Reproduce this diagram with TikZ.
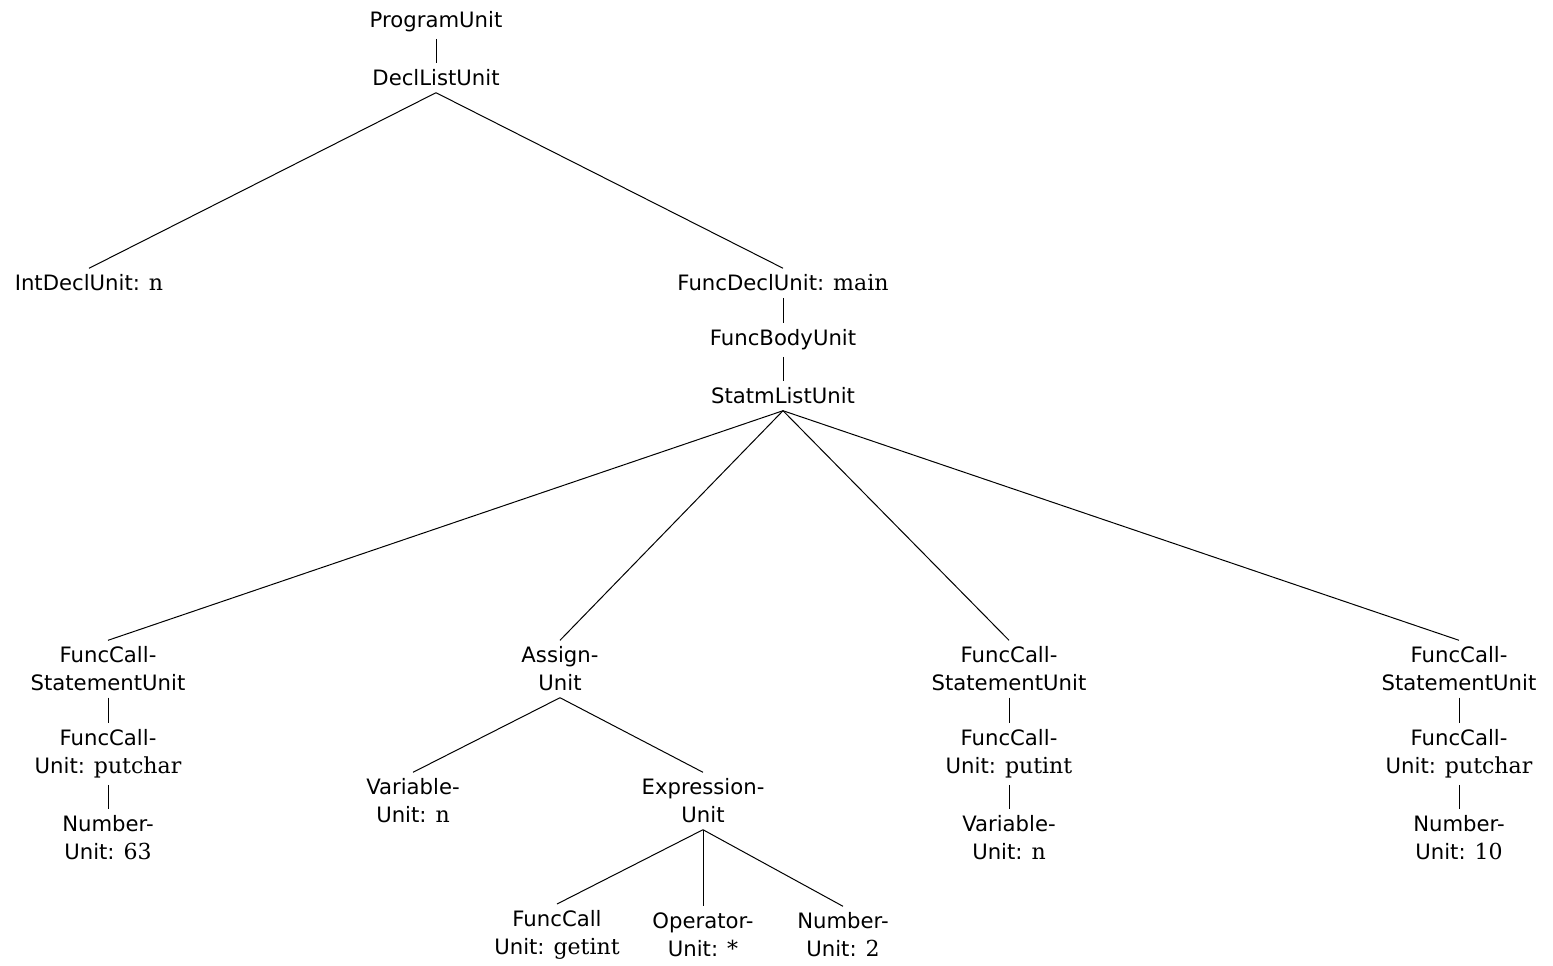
\documentclass[tikz,border=0pt]{standalone}
\usepackage{fontspec}
\setmainfont{DejaVu Serif}[Scale=1.04]
\setsansfont{DejaVu Sans}
\usetikzlibrary{positioning}

\newcommand{\unitval}[1]{{\rmfamily #1}}

\begin{document}
\begin{tikzpicture}[x = 0.5pt, y = -0.5pt, black, line width = 0.5pt,
    unit/.style = {font = \sffamily\fontsize{10.6}{14}\selectfont, align = center, inner sep = 3pt}]

    \useasboundingbox (0,0) rectangle (1553,965);

    % top of the tree
    \node (prog)  at (436,22)  [unit] {ProgramUnit};
    \node (decls) at (436,78)  [unit] {DeclListUnit};
    \node (intd)  at (89,283)  [unit] {IntDeclUnit: \unitval{n}};
    \node (funcd) at (783,283) [unit] {FuncDeclUnit: \unitval{main}};
    \node (body)  at (783,340) [unit] {FuncBodyUnit};
    \node (stml)  at (783,396) [unit] {StatmListUnit};

    % statements
    \node (st1) at (108,669)  [unit] {FuncCall-\\StatementUnit};
    \node (st2) at (560,669)  [unit] {Assign-\\Unit};
    \node (st3) at (1009,669) [unit] {FuncCall-\\StatementUnit};
    \node (st4) at (1459,669) [unit] {FuncCall-\\StatementUnit};

    \node (call1) at (108,754)  [unit] {FuncCall-\\Unit: \unitval{putchar}};
    \node (num1)  at (108,838)  [unit] {Number-\\Unit: \unitval{63}};

    \node (var1)  at (413,801)  [unit] {Variable-\\Unit: \unitval{n}};
    \node (expr)  at (703,801)  [unit] {Expression-\\Unit};
    \node (call2) at (557,935)  [unit] {FuncCall\\Unit: \unitval{getint}};
    \node (oper)  at (703,935)  [unit] {Operator-\\Unit: \unitval{*}};
    \node (num2)  at (843,935)  [unit] {Number-\\Unit: \unitval{2}};

    \node (call3) at (1009,754) [unit] {FuncCall-\\Unit: \unitval{putint}};
    \node (var2)  at (1009,838) [unit] {Variable-\\Unit: \unitval{n}};

    \node (call4) at (1459,754) [unit] {FuncCall-\\Unit: \unitval{putchar}};
    \node (num3)  at (1459,838) [unit] {Number-\\Unit: \unitval{10}};

    % edges
    \draw (prog.south) -- (decls.north);
    \draw (decls.south) -- (intd.north);
    \draw (decls.south) -- (funcd.north);
    \draw (funcd.south) -- (body.north);
    \draw (body.south) -- (stml.north);

    \foreach \s in {st1, st2, st3, st4}
        \draw (stml.south) -- (\s.north);

    \draw (st1.south) -- (call1.north);
    \draw (call1.south) -- (num1.north);

    \draw (st2.south) -- (var1.north);
    \draw (st2.south) -- (expr.north);
    \foreach \s in {call2, oper, num2}
        \draw (expr.south) -- (\s.north);

    \draw (st3.south) -- (call3.north);
    \draw (call3.south) -- (var2.north);

    \draw (st4.south) -- (call4.north);
    \draw (call4.south) -- (num3.north);

\end{tikzpicture}
\end{document}
